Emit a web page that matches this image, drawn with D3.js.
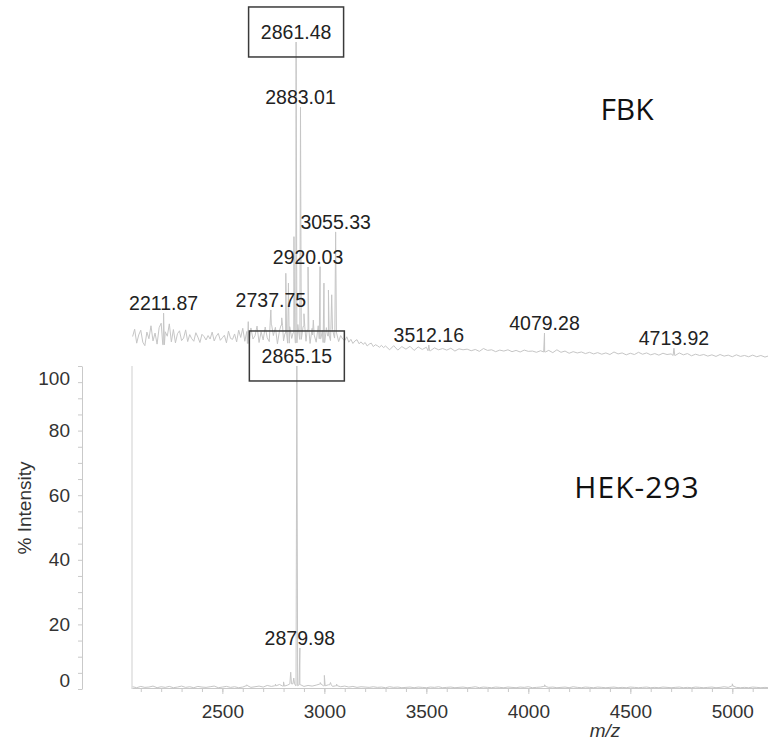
<!DOCTYPE html>
<html>
<head>
<meta charset="utf-8">
<script src="https://cdn.jsdelivr.net/npm/d3@7"></script>
<style>
  body { margin: 0; background: #fff; }
  svg { display: block; }
</style>
</head>
<body>
<svg id="chart" width="768" height="747"></svg>
<script>
// ---- Data -----------------------------------------------------------------

// m/z range of the acquisition and axis ticks
const mzDomain = [2057, 5175];
const xMajorTicks = [2500, 3000, 3500, 4000, 4500, 5000];
const xMinorTicks = d3.range(2100, 5101, 100);
const yLabelTicks = [0, 20, 40, 60, 80, 100];
const yMinorTicks = d3.range(0, 101, 5);

// FBK spectrum: baseline trace (% intensity), two sampling blocks
const fbkNoiseAStart = 2060, fbkNoiseAStep = 10;
const fbkNoiseA = [
  6.8, 9.1, 4.7, 7.3, 8.8, 5.0, 3.9, 8.2, 6.1, 10.2, 5.4, 7.9, 4.4, 9.6,
  11.0, 4.2, 8.3, 6.9, 10.8, 5.1, 9.0, 4.8, 7.7, 8.6, 5.5, 6.3, 8.9, 5.2,
  7.4, 6.1, 5.3, 8.0, 6.6, 4.9, 7.5, 6.8, 5.7, 7.1, 6.0, 8.2, 5.4, 6.9,
  7.8, 5.6, 6.4, 7.2, 4.8, 8.5, 6.2, 5.9, 7.6, 5.1, 8.8, 6.5, 9.4, 5.3,
  8.4, 4.6, 9.5, 6.0, 7.0, 10.1, 4.9, 8.3, 5.7, 9.8, 6.4, 5.2, 10.4, 7.1,
  9.7, 4.5, 8.6, 10.3, 5.4, 7.8, 4.7, 9.9, 6.2, 8.0, 4.8, 10.6, 5.9, 7.2,
  10.0, 5.3, 8.9, 4.6, 9.4, 7.3, 5.0, 10.2, 6.1, 8.7, 4.9, 9.6, 7.0, 5.5,
  9.0, 6.3, 7.9, 5.2, 7.1, 6.0, 5.5, 6.7, 5.0, 5.9, 4.6, 5.4, 5.8, 4.5,
  5.1, 4.3, 4.9, 3.8, 4.4, 4.7, 3.6, 4.2, 3.9, 3.4, 4.0, 3.3
];
const fbkNoiseBStart = 3300, fbkNoiseBStep = 20;
const fbkNoiseB = [
  3.8, 2.6, 3.9, 2.5, 3.6, 2.8, 3.7, 2.4, 3.5, 2.7,
  3.4, 2.3, 3.2, 2.6, 3.0, 2.5, 3.1, 2.2, 2.9, 2.6,
  2.8, 2.3, 2.7, 2.1, 3.0, 2.4, 2.6, 2.0, 2.5, 2.2,
  2.6, 2.0, 2.4, 1.9, 2.5, 2.1, 2.2, 1.8, 2.3, 1.9,
  2.4, 1.7, 2.6, 1.8, 2.2, 1.5, 2.0, 1.6, 1.9, 1.4,
  1.8, 1.3, 1.7, 1.2, 1.6, 1.1, 1.9, 1.3, 1.6, 1.0,
  1.5, 1.1, 1.8, 1.2, 1.6, 1.0, 1.4, 0.9, 1.5, 1.1,
  1.3, 0.8, 1.6, 1.0, 1.4, 0.7, 1.2, 0.8, 1.1, 0.6,
  1.0, 0.5, 1.1, 0.6, 0.9, 0.4, 1.0, 0.5, 0.8, 0.4,
  0.9, 0.4, 0.8, 0.3, 0.7
];

// FBK peaks: m/z and % intensity
const fbkPeakMz = [2211.87, 2627, 2737.75, 2791, 2811, 2824, 2851, 2861.48, 2883.01,
                   2900, 2920.03, 2946, 2979, 2998, 3020, 3036, 3055.33,
                   3512.16, 4079.28, 4713.92];
const fbkPeakInt = [14.2, 11.5, 15.2, 12.7, 26.8, 23.7, 38.4, 100, 79.4,
                    14, 28.8, 12, 28.9, 23.7, 21.5, 20, 39.9,
                    4.1, 7.9, 3.1];
const fbkLabels = ["2211.87", "2737.75", "2861.48", "2883.01", "2920.03",
                   "3055.33", "3512.16", "4079.28", "4713.92"];
const fbkBoxed = ["2861.48"];

// HEK-293 spectrum: baseline trace (% intensity)
const hekNoiseStart = 2060, hekNoiseStep = 20;
const hekNoise = [
  0.7, 0.4, 0.8, 0.5, 0.6, 0.9, 0.4, 0.7, 0.5, 0.8,
  0.4, 0.6, 0.9, 0.5, 0.7, 0.4, 0.8, 0.6, 0.5, 0.7,
  0.9, 0.4, 0.6, 0.8, 0.5, 0.7, 0.4, 0.6, 1.0, 0.5,
  0.7, 0.9, 0.6, 1.1, 0.8, 1.0, 1.4, 0.9, 1.2, 1.6,
  1.0, 1.3, 0.8, 1.1, 0.9, 1.2, 1.5, 1.0, 1.3, 0.8,
  1.0, 0.7, 0.9, 0.6, 0.8, 0.5, 0.7, 0.6, 0.5, 0.7,
  0.5, 0.6, 0.4, 0.7, 0.5, 0.6, 0.4, 0.5, 0.6, 0.4,
  0.6, 0.5, 0.4, 0.6, 0.5, 0.7, 0.4, 0.5, 0.6, 0.4,
  0.5, 0.6, 0.4, 0.5, 0.7, 0.4, 0.6, 0.5, 0.4, 0.6,
  0.5, 0.4, 0.6, 0.5, 0.4, 0.6, 0.5, 0.7, 0.4, 0.5,
  0.6, 0.8, 0.5, 0.6, 0.4, 0.5, 0.6, 0.4, 0.7, 0.5,
  0.4, 0.6, 0.5, 0.4, 0.6, 0.5, 0.4, 0.5, 0.6, 0.4,
  0.5, 0.4, 0.6, 0.5, 0.4, 0.5, 0.6, 0.4, 0.5, 0.4,
  0.6, 0.5, 0.4, 0.5, 0.6, 0.4, 0.5, 0.4, 0.6, 0.5,
  0.4, 0.5, 0.6, 0.4, 0.5, 0.7, 0.5, 0.9, 0.5, 0.4,
  0.5, 0.4, 0.6, 0.5, 0.4, 0.5, 0.4
];

// HEK-293 peaks
const hekPeakMz = [2620, 2760, 2800, 2835, 2850, 2865.15, 2879.98, 2980, 3000, 3030, 3060, 4080, 5000];
const hekPeakInt = [1.3, 1.5, 2.2, 5.2, 3.4, 100, 12.7, 2.0, 4.2, 2.0, 1.5, 1.3, 1.6];
const hekLabels = ["2865.15", "2879.98"];
const hekBoxed = ["2865.15"];

// ---- Drawing ----------------------------------------------------------------

const svg = d3.select("#chart");
const FONT = "'Liberation Sans', Arial, Helvetica, sans-serif";
const AXIS_GREY = "#c9c9c9";
const TRACE_GREY = "#c6c6c6";

const x = d3.scaleLinear().domain(mzDomain).range([132, 768]);
const yHek = d3.scaleLinear().domain([0, 100]).range([689, 366]);
const yFbk = d3.scaleLinear().domain([0, 100]).range([358, 42]);

// merge a sampled baseline with narrow peak spikes into one trace
function buildTrace(blocks, peakMz, peakInt) {
  const pts = [];
  blocks.forEach(b => b.values.forEach((v, i) => pts.push([b.start + i * b.step, v])));
  pts.sort((a, b) => a[0] - b[0]);
  const baseAt = mz => {
    let best = pts[0];
    for (const p of pts) if (Math.abs(p[0] - mz) < Math.abs(best[0] - mz)) best = p;
    return best[1];
  };
  const spikes = [];
  peakMz.forEach((mz, i) => {
    const b = baseAt(mz);
    spikes.push([mz - 4, b], [mz, peakInt[i]], [mz + 4, b]);
  });
  return pts.concat(spikes).sort((a, b) => a[0] - b[0]);
}

const fbkTrace = buildTrace(
  [{ start: fbkNoiseAStart, step: fbkNoiseAStep, values: fbkNoiseA },
   { start: fbkNoiseBStart, step: fbkNoiseBStep, values: fbkNoiseB }],
  fbkPeakMz, fbkPeakInt);
const hekTrace = buildTrace(
  [{ start: hekNoiseStart, step: hekNoiseStep, values: hekNoise }],
  hekPeakMz, hekPeakInt);

// left border of the lower plot
svg.append("line")
  .attr("x1", x(mzDomain[0])).attr("x2", x(mzDomain[0]))
  .attr("y1", yHek(0)).attr("y2", yHek(100))
  .attr("stroke", "#cfcfcf").attr("stroke-width", 1);

// Axes
const xMinor = d3.axisBottom(x).tickValues(xMinorTicks).tickSize(4).tickSizeOuter(0).tickFormat("");
const xMajor = d3.axisBottom(x).tickValues(xMajorTicks).tickSize(6).tickSizeOuter(0).tickPadding(11)
  .tickFormat(d3.format("d"));

const gxMinor = svg.append("g").attr("transform", "translate(0,688)").call(xMinor);
const gxMajor = svg.append("g").attr("transform", "translate(0,688)").call(xMajor);
gxMajor.select(".domain").remove();

const yAxis = d3.axisLeft(yHek).tickValues(yMinorTicks).tickSize(4).tickSizeOuter(0).tickPadding(8)
  .tickFormat(d => yLabelTicks.includes(d) ? d : "");
const gy = svg.append("g").attr("transform", "translate(82,0)").call(yAxis);
// end labels sit inside the axis span
gy.selectAll(".tick text")
  .attr("dy", d => d === 100 ? "0.95em" : d === 0 ? "-0.15em" : "0.32em");

[gxMinor, gxMajor, gy].forEach(g => {
  g.selectAll(".domain, .tick line").attr("stroke", AXIS_GREY).attr("stroke-width", 1);
  g.selectAll(".tick text").attr("fill", "#333").style("font-family", FONT).style("font-size", "19px");
});

svg.append("text")
  .attr("transform", "translate(31,508) rotate(-90)")
  .attr("text-anchor", "middle")
  .style("font-family", FONT).style("font-size", "19px").attr("fill", "#333")
  .text("% Intensity");

svg.append("text")
  .attr("x", 605).attr("y", 737)
  .attr("text-anchor", "middle")
  .style("font-family", FONT).style("font-size", "19px").style("font-style", "italic").attr("fill", "#333")
  .text("m/z");

// Spectra
const lineFbk = d3.line().x(d => x(d[0])).y(d => yFbk(d[1]));
const lineHek = d3.line().x(d => x(d[0])).y(d => yHek(d[1]));

svg.append("path").datum(hekTrace).attr("d", lineHek)
  .attr("fill", "none").attr("stroke", TRACE_GREY).attr("stroke-width", 1);
svg.append("path").datum(fbkTrace).attr("d", lineFbk)
  .attr("fill", "none").attr("stroke", TRACE_GREY).attr("stroke-width", 1);

// Peak annotations
function annotate(peakMz, peakInt, labels, boxed, yScale) {
  const FS = 19.5;
  labels.forEach(lab => {
    const i = peakMz.findIndex(m => m.toFixed(2) === lab);
    const px = x(peakMz[i]);
    const base = yScale(peakInt[i]) - 3;
    svg.append("text")
      .attr("x", px).attr("y", base)
      .attr("text-anchor", "middle")
      .style("font-family", FONT).style("font-size", FS + "px")
      .attr("fill", "#222")
      .text(lab);
    if (boxed.includes(lab)) {
      const cy = base - 0.36 * FS;
      svg.append("rect")
        .attr("x", px - 47.5).attr("y", cy - 25)
        .attr("width", 95).attr("height", 50)
        .attr("fill", "none").attr("stroke", "#3a3a3a").attr("stroke-width", 1.5);
    }
  });
}
annotate(fbkPeakMz, fbkPeakInt, fbkLabels, fbkBoxed, yFbk);
annotate(hekPeakMz, hekPeakInt, hekLabels, hekBoxed, yHek);

// Sample names
svg.append("text")
  .attr("x", 627).attr("y", 120)
  .attr("text-anchor", "middle")
  .style("font-family", "'Open Sans', sans-serif").style("font-size", "30px")
  .attr("fill", "#111")
  .text("FBK");
svg.append("text")
  .attr("x", 637).attr("y", 498)
  .attr("text-anchor", "middle")
  .style("font-family", "'Open Sans', sans-serif").style("font-size", "30px")
  .style("letter-spacing", "1px")
  .attr("fill", "#111")
  .text("HEK-293");
</script>
</body>
</html>
